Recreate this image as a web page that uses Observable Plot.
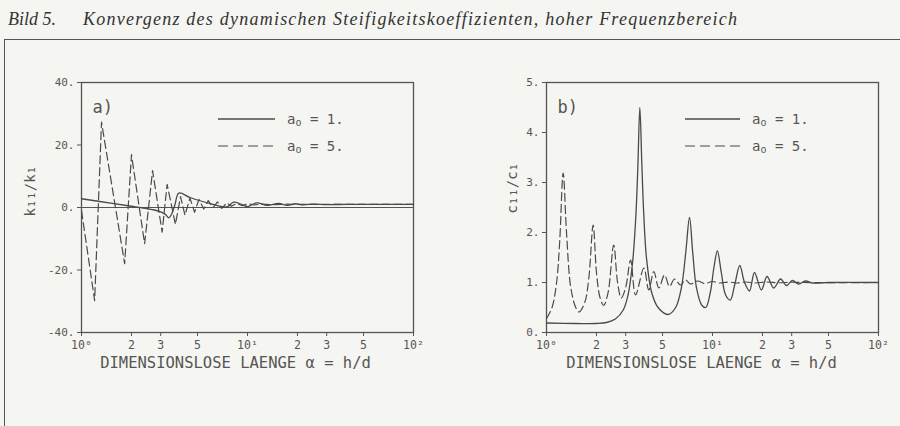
<!DOCTYPE html>
<html>
<head>
<meta charset="utf-8">
<script src="https://cdn.jsdelivr.net/npm/d3@7"></script>
<script src="https://cdn.jsdelivr.net/npm/@observablehq/plot@0.6"></script>
<style>
  html, body { margin: 0; padding: 0; }
  body { width: 900px; height: 426px; overflow: hidden; position: relative; background: #f5f5f2; font-family: "DejaVu Sans Mono", monospace; }
  #title { position: absolute; left: 0; top: 0; }
  #frame { position: absolute; left: 4px; top: 39px; width: 900px; height: 400px; border-top: 1.5px solid #555; border-left: 1.5px solid #555; }
  #pa { position: absolute; left: 0; top: 40px; }
  #pb { position: absolute; left: 450px; top: 40px; }
  .legend { position: absolute; top: 100px; }
</style>
</head>
<body>
<svg id="title" width="900" height="38">
  <text x="8" y="25" font-family="Liberation Serif, serif" font-style="italic" font-size="18" fill="#333">Bild 5.</text>
  <text x="83" y="25" font-family="Liberation Serif, serif" font-style="italic" font-size="18" fill="#333" textLength="654" lengthAdjust="spacing">Konvergenz des dynamischen Steifigkeitskoeffizienten, hoher Frequenzbereich</text>
</svg>
<div id="frame"></div>
<div id="pa"></div>
<div id="pb"></div>
<script>
// ---- tick values and labels ----
const xTickValues = [1, 2, 3, 5, 10, 20, 30, 50, 100];
const xTickLabels = ["10⁰", "2", "3", "5", "10¹", "2", "3", "5", "10²"];
const yTicksA = [-40, -20, 0, 20, 40];
const yTickLabelsA = ["-40.", "-20.", "0.", "20.", "40."];
const yTicksB = [0, 1, 2, 3, 4, 5];
const yTickLabelsB = ["0.", "1.", "2.", "3.", "4.", "5."];
const seriesNames = ["a₀ = 1.", "a₀ = 5."];
const xAxisLabel = "DIMENSIONSLOSE LAENGE α = h/d";

// ---- panel a) k11/k1 ----
const alphaA1 = [1, 1.5, 2.0, 2.5, 2.75, 3.0, 3.2, 3.36, 3.5, 3.65, 3.86, 4.5, 5.3, 6.2, 7.0, 7.6, 8.25, 9.2, 10.0, 11.4, 13.1, 15.4, 17.3, 19.5, 21.5, 25, 30, 40, 100];
const kA1     = [2.8, 1.4, 0.4, -0.4, -0.8, -1.4, -2.2, -3.3, -2.0, 0.8, 4.6, 3.2, 2.0, 1.0, 0.3, 0.3, 1.7, 1.0, 0.3, 1.5, 0.7, 1.3, 0.7, 1.2, 0.85, 1.1, 0.95, 1.0, 1.0];
const alphaA5 = [1, 1.2, 1.32, 1.82, 2.0, 2.4, 2.68, 3.06, 3.28, 3.68, 3.95, 4.2, 4.5, 4.8, 5.1, 5.45, 5.8, 6.2, 6.6, 7.0, 7.5, 8.0, 8.6, 9.3, 10, 11, 12, 14, 17, 20, 100];
const kA5     = [-1, -29.8, 27.3, -18, 16.9, -11.6, 11.8, -7.9, 7.4, -5.4, 3.5, -2.5, 3.0, -1.5, 2.6, -0.5, 2.2, 0.0, 1.8, -0.3, 1.5, 0.4, 1.3, 0.6, 1.2, 0.8, 1.1, 0.9, 1.05, 1.0, 1.0];

// ---- panel b) c11/c1 ----
const alphaB1 = [1, 1.5, 2.0, 2.3, 2.6, 2.9, 3.1, 3.3, 3.45, 3.55, 3.65, 3.75, 3.85, 4.0, 4.3, 4.7, 5.4, 6.0, 6.5, 6.9, 7.27, 7.6, 8.0, 8.6, 9.1, 9.7, 10.2, 10.7, 11.3, 12.0, 12.8, 13.6, 14.6, 15.6, 16.7, 17.9, 19.7, 21.3, 23.4, 25.7, 27.9, 30.3, 33, 36.3, 40, 50, 100];
const cB1     = [0.19, 0.18, 0.18, 0.2, 0.27, 0.45, 0.75, 1.4, 2.3, 3.3, 4.5, 3.4, 2.4, 1.5, 0.8, 0.5, 0.36, 0.5, 0.9, 1.6, 2.3, 1.6, 0.9, 0.55, 0.5, 0.8, 1.3, 1.63, 1.2, 0.75, 0.65, 0.95, 1.34, 1.0, 0.83, 1.2, 0.85, 1.12, 0.89, 1.07, 0.94, 1.04, 0.97, 1.03, 0.99, 1.0, 1.0];
const alphaB5 = [1, 1.08, 1.15, 1.2, 1.26, 1.32, 1.4, 1.5, 1.57, 1.7, 1.8, 1.91, 2.0, 2.1, 2.21, 2.35, 2.54, 2.68, 2.82, 3.0, 3.21, 3.44, 3.86, 4.13, 4.43, 4.75, 5.14, 5.51, 5.9, 6.41, 6.88, 7.37, 8.12, 9, 10, 11, 12.5, 14, 16, 18, 21, 25, 30, 35, 100];
const cB5     = [0.28, 0.5, 1.0, 1.8, 3.19, 2.0, 0.9, 0.5, 0.41, 0.6, 1.1, 2.15, 1.2, 0.7, 0.54, 0.8, 1.75, 1.0, 0.69, 0.9, 1.45, 0.75, 1.29, 0.85, 1.22, 0.89, 1.15, 0.92, 1.07, 0.95, 1.05, 0.97, 1.03, 0.98, 1.02, 0.99, 1.01, 0.99, 1.01, 0.99, 1.01, 0.995, 1.005, 1.0, 1.0];

const zip = (xs, ys) => xs.map((x, i) => ({x, y: ys[i]}));
const INK = "#4a4a4a";
const FONT = "DejaVu Sans Mono, monospace";

function panel(opts) {
  const {s1, s5, yDomain, yTicks, yLabels, ml, mr, tag, ylabel, ylabelDx, ylabelDy, xlabelDx, zero, curve5} = opts;
  return Plot.plot({
    width: 450, height: 386,
    marginLeft: ml, marginRight: mr, marginTop: 42, marginBottom: 94,
    style: {background: "transparent", fontFamily: FONT, fontSize: "11px", color: "#555", overflow: "visible"},
    x: {type: "log", domain: [1, 100]},
    y: {domain: yDomain},
    marks: [
      Plot.frame({stroke: "#555", strokeWidth: 1.3}),
      Plot.axisX({ticks: xTickValues, tickFormat: d => xTickLabels[xTickValues.indexOf(d)], tickSize: 4, tickPadding: 4, label: null, stroke: "#555", fontSize: 11.5}),
      Plot.axisY({ticks: yTicks, tickFormat: d => yLabels[yTicks.indexOf(d)], tickSize: 4, tickPadding: 3, label: null, stroke: "#555", fontSize: 11}),
      zero ? Plot.ruleY([0], {stroke: "#555", strokeWidth: 1.2}) : null,
      Plot.line(s5, {x: "x", y: "y", stroke: INK, strokeWidth: 1.2, strokeDasharray: "8,4", curve: curve5}),
      Plot.line(s1, {x: "x", y: "y", stroke: INK, strokeWidth: 1.3, curve: "catmull-rom"}),
      Plot.text([xAxisLabel], {frameAnchor: "bottom", lineAnchor: "middle", dy: 31, dx: xlabelDx, fontSize: 15.5, fill: "#555"}),
      Plot.text([ylabel], {frameAnchor: "left", rotate: -90, dx: ylabelDx, dy: ylabelDy, fontSize: 14, fill: "#555"}),
      Plot.text([tag], {frameAnchor: "top-left", dx: 11, dy: 18, fontSize: 17, fill: "#555", textAnchor: "start", lineAnchor: "top"})
    ]
  });
}

document.getElementById("pa").appendChild(panel({
  s1: zip(alphaA1, kA1), s5: zip(alphaA5, kA5),
  yDomain: [-40, 40], yTicks: yTicksA, yLabels: yTickLabelsA,
  ml: 81, mr: 37, tag: "a)", ylabel: "k₁₁/k₁", ylabelDx: -51, ylabelDy: 9, xlabelDx: -12,
  zero: true, curve5: "linear"
}));
document.getElementById("pb").appendChild(panel({
  s1: zip(alphaB1, cB1), s5: zip(alphaB5, cB5),
  yDomain: [0, 5], yTicks: yTicksB, yLabels: yTickLabelsB,
  ml: 96, mr: 22, tag: "b)", ylabel: "c₁₁/c₁", ylabelDx: -34, ylabelDy: 6, xlabelDx: -11,
  zero: false, curve5: "catmull-rom"
}));

// ---- legends ----
function legend(left, lineLen) {
  const ns = "http://www.w3.org/2000/svg";
  const svg = document.createElementNS(ns, "svg");
  svg.setAttribute("width", 150); svg.setAttribute("height", 60);
  svg.setAttribute("class", "legend");
  svg.style.left = left + "px";
  seriesNames.forEach((name, i) => {
    const y = 19 + i * 27;
    const ln = document.createElementNS(ns, "line");
    ln.setAttribute("x1", 0); ln.setAttribute("x2", lineLen);
    ln.setAttribute("y1", y); ln.setAttribute("y2", y);
    ln.setAttribute("stroke", INK); ln.setAttribute("stroke-width", i ? 1.2 : 1.3);
    if (i) ln.setAttribute("stroke-dasharray", "10,5");
    svg.appendChild(ln);
    const t = document.createElementNS(ns, "text");
    t.setAttribute("x", lineLen + 12); t.setAttribute("y", y + 5);
    t.setAttribute("font-family", FONT); t.setAttribute("font-size", 14); t.setAttribute("fill", "#555");
    const [a, rest] = [name.slice(0, 1), name.slice(2)];
    const t1 = document.createElementNS(ns, "tspan"); t1.textContent = a;
    const t2 = document.createElementNS(ns, "tspan"); t2.textContent = "o"; t2.setAttribute("font-size", 10); t2.setAttribute("dy", 2);
    const t3 = document.createElementNS(ns, "tspan"); t3.textContent = rest; t3.setAttribute("dy", -2);
    t.append(t1, t2, t3);
    svg.appendChild(t);
  });
  document.body.appendChild(svg);
}
legend(218, 57);
legend(685, 55);
</script>
</body>
</html>
